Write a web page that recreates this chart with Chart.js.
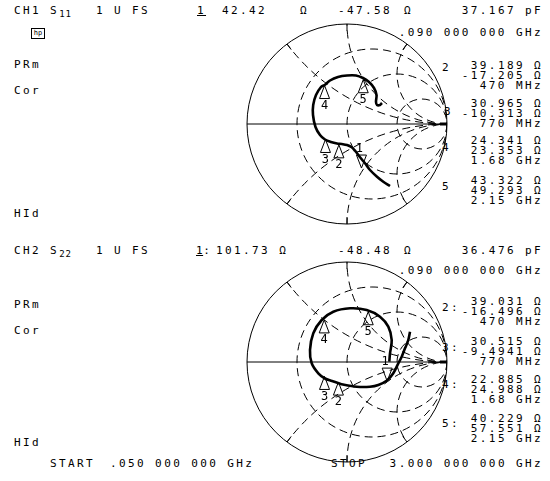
<!DOCTYPE html>
<html lang="en">
<head>
<meta charset="UTF-8">
<title>S11 / S22 Smith chart</title>
<style>
  body { margin: 0; background: #fff; width: 550px; height: 481px; position: relative; overflow: hidden;
         font-family: "DejaVu Sans Mono", monospace; font-size: 11px; color: #000; }
  .t { position: absolute; white-space: pre; letter-spacing: 2.4px; line-height: 10px; }
  .r { position: absolute; right: 7px; white-space: pre; text-align: right; letter-spacing: 2.4px; line-height: 10px; }
  .u { text-decoration: underline; }
  sub { font-size: 9px; vertical-align: -3px; letter-spacing: 1px; }
  .logo { position: absolute; left: 31px; top: 28px; width: 12px; height: 9px; border: 1px solid #000;
          font-size: 7px; line-height: 9px; text-align: center; color: #000; }
  canvas { position: absolute; }
</style>
</head>
<body>
  <!-- channel 1 -->
  <div class="t" style="left:14px;top:6px">CH1 S<sub>11</sub></div>
  <div class="t" style="left:96px;top:6px">1 U FS</div>
  <div class="t u" style="left:197px;top:6px">1</div>
  <div class="t" style="left:222px;top:6px">42.42</div>
  <div class="t" style="left:300px;top:6px">Ω</div>
  <div class="t" style="left:338px;top:6px">-47.58</div>
  <div class="t" style="left:404px;top:6px">Ω</div>
  <div class="r" style="top:6px">37.167 pF</div>
  <div class="logo">hp</div>
  <div class="r" style="top:28px">.090 000 000 GHz</div>
  <div class="t" style="left:14px;top:60px">PRm</div>
  <div class="t" style="left:14px;top:86px">Cor</div>
  <div class="t" style="left:14px;top:209px">HId</div>

  <div class="t" style="left:442px;top:63px">2</div>
  <div class="r" style="top:61px">39.189 Ω<br>-17.205 Ω<br>470 MHz</div>
  <div class="t" style="left:444px;top:107px">3</div>
  <div class="r" style="top:99px">30.965 Ω<br>-10.313 Ω<br>770 MHz</div>
  <div class="t" style="left:442px;top:143px">4</div>
  <div class="r" style="top:136px">24.341 Ω<br>23.353 Ω<br>1.68 GHz</div>
  <div class="t" style="left:442px;top:182px">5</div>
  <div class="r" style="top:176px">43.322 Ω<br>49.293 Ω<br>2.15 GHz</div>

  <!-- channel 2 -->
  <div class="t" style="left:14px;top:246px">CH2 S<sub>22</sub></div>
  <div class="t" style="left:96px;top:246px">1 U FS</div>
  <div class="t" style="left:196px;top:246px;letter-spacing:0.5px"><span class="u">1</span>:</div>
  <div class="t" style="left:216px;top:246px">101.73 Ω</div>
  <div class="t" style="left:338px;top:246px">-48.48</div>
  <div class="t" style="left:404px;top:246px">Ω</div>
  <div class="r" style="top:246px">36.476 pF</div>
  <div class="r" style="top:266px">.090 000 000 GHz</div>
  <div class="t" style="left:14px;top:300px">PRm</div>
  <div class="t" style="left:14px;top:326px">Cor</div>
  <div class="t" style="left:14px;top:438px">HId</div>

  <div class="t" style="left:442px;top:303px">2:</div>
  <div class="r" style="top:297px">39.031 Ω<br>-16.496 Ω<br>470 MHz</div>
  <div class="t" style="left:442px;top:343px">3:</div>
  <div class="r" style="top:337px">30.515 Ω<br>-9.4941 Ω<br>770 MHz</div>
  <div class="t" style="left:442px;top:380px">4:</div>
  <div class="r" style="top:375px">22.885 Ω<br>24.988 Ω<br>1.68 GHz</div>
  <div class="t" style="left:442px;top:419px">5:</div>
  <div class="r" style="top:414px">40.229 Ω<br>57.551 Ω<br>2.15 GHz</div>

  <div class="t" style="left:50px;top:459px">START</div>
  <div class="t" style="left:110px;top:459px">.050 000 000 GHz</div>
  <div class="t" style="left:331px;top:459px">STOP</div>
  <div class="r" style="top:459px">3.000 000 000 GHz</div>

  <canvas id="smith1" width="220" height="220" style="left:237px;top:14px"></canvas>
  <canvas id="smith2" width="220" height="220" style="left:237px;top:252px"></canvas>

  <script src="https://cdn.jsdelivr.net/npm/chart.js"></script>
  <script>
    const s11Re = [0.43, 0.363, 0.30, 0.23, 0.18, 0.147, 0.113, 0.08, 0.047, 0.0, -0.053, -0.10, -0.16, -0.22,
                   -0.27, -0.315, -0.34, -0.338, -0.31, -0.26, -0.224, -0.17, -0.09, 0.0, 0.09, 0.16, 0.22,
                   0.27, 0.295, 0.29, 0.30, 0.33, 0.35];
    const s11Im = [-0.62, -0.577, -0.527, -0.46, -0.393, -0.353, -0.31, -0.267, -0.233, -0.21, -0.20, -0.195, -0.18, -0.155,
                   -0.11, -0.03, 0.09, 0.19, 0.29, 0.37, 0.39, 0.435, 0.47, 0.485, 0.485, 0.46, 0.42,
                   0.36, 0.29, 0.22, 0.19, 0.19, 0.21];

    const s22Re = [0.63, 0.613, 0.58, 0.547, 0.513, 0.463, 0.40, 0.313, 0.23, 0.097, -0.04, -0.09, -0.15, -0.22,
                   -0.287, -0.353, -0.37, -0.337, -0.253, -0.137, 0.03, 0.197, 0.33, 0.413, 0.447, 0.43, 0.423];
    const s22Im = [0.303, 0.22, 0.137, 0.053, -0.013, -0.113, -0.185, -0.23, -0.247, -0.247, -0.225, -0.21, -0.19, -0.165,
                   -0.113, -0.013, 0.12, 0.287, 0.42, 0.503, 0.537, 0.52, 0.453, 0.353, 0.22, 0.087, 0.003];

    // marker readouts (ohms)
    const markerIds = ['1', '2', '3', '4', '5'];
    const s11MarkR = [42.42, 39.189, 30.965, 24.341, 43.322];
    const s11MarkX = [-47.58, -17.205, -10.313, 23.353, 49.293];
    const s22MarkR = [101.73, 39.031, 30.515, 22.885, 40.229];
    const s22MarkX = [-48.48, -16.496, -9.4941, 24.988, 57.551];
    const z0 = 50;

    // graticule
    const rCircles = [1 / 3, 1, 3];
    const xArcs = [0.5, 1, 2, -0.5, -1, -2];

    function gamma(r, x) {
      const a = r / z0, b = x / z0;
      const nr = a - 1, dr = a + 1;
      const d = dr * dr + b * b;
      return { x: (nr * dr + b * b) / d, y: (b * dr - nr * b) / d };
    }

    const smithGrid = {
      id: 'smithGrid',
      beforeDatasetsDraw(chart) {
        const { ctx, scales: { x, y } } = chart;
        const px = v => x.getPixelForValue(v), py = v => y.getPixelForValue(v);
        const R = px(1) - px(0);
        ctx.save();
        ctx.strokeStyle = '#000';
        ctx.lineWidth = 1;
        ctx.beginPath(); ctx.arc(px(0), py(0), R, 0, 2 * Math.PI); ctx.stroke();
        ctx.beginPath(); ctx.moveTo(px(-1), py(0)); ctx.lineTo(px(1), py(0)); ctx.stroke();
        // short heavy bit at the open-circuit end
        ctx.lineWidth = 3;
        ctx.beginPath(); ctx.moveTo(px(0.93), py(0)); ctx.lineTo(px(1), py(0)); ctx.stroke();
        ctx.lineWidth = 1;
        // ticks where reactance arcs meet the rim
        xArcs.forEach(xv => {
          const gx = (xv * xv - 1) / (xv * xv + 1), gy = 2 * xv / (xv * xv + 1);
          ctx.beginPath();
          ctx.moveTo(px(gx), py(gy));
          ctx.lineTo(px(gx * 0.93), py(gy * 0.93));
          ctx.stroke();
        });
        ctx.beginPath(); ctx.arc(px(0), py(0), R, 0, 2 * Math.PI); ctx.clip();
        ctx.setLineDash([8, 5]);
        rCircles.forEach(r => {
          ctx.beginPath();
          ctx.arc(px(r / (1 + r)), py(0), R / (1 + r), 0, 2 * Math.PI);
          ctx.stroke();
        });
        xArcs.forEach(xv => {
          ctx.beginPath();
          ctx.arc(px(1), py(1 / xv), R / Math.abs(xv), 0, 2 * Math.PI);
          ctx.stroke();
        });
        ctx.restore();
      }
    };

    const markerPlugin = {
      id: 'markerPlugin',
      afterDatasetsDraw(chart, args, opts) {
        const { ctx, scales: { x, y } } = chart;
        ctx.save();
        ctx.strokeStyle = '#000';
        ctx.fillStyle = '#000';
        ctx.lineWidth = 1;
        ctx.font = '12px "DejaVu Sans Mono"';
        ctx.textAlign = 'center';
        ctx.textBaseline = 'middle';
        opts.r.forEach((r, i) => {
          const g = gamma(r, opts.x[i]);
          const gx = x.getPixelForValue(g.x), gy = y.getPixelForValue(g.y);
          ctx.beginPath();
          if (i === 0) {
            ctx.moveTo(gx, gy); ctx.lineTo(gx - 5, gy - 13); ctx.lineTo(gx + 5, gy - 13); ctx.closePath();
            ctx.stroke();
            ctx.fillText(markerIds[i], gx - 2, gy - 19);
          } else {
            ctx.moveTo(gx, gy); ctx.lineTo(gx - 5, gy + 13); ctx.lineTo(gx + 5, gy + 13); ctx.closePath();
            ctx.stroke();
            ctx.fillText(markerIds[i], gx, gy + 20);
          }
        });
        ctx.restore();
      }
    };

    function makeSmith(id, re, im, mR, mX) {
      return new Chart(document.getElementById(id), {
        type: 'scatter',
        data: {
          datasets: [{
            data: re.map((v, i) => ({ x: v, y: im[i] })),
            showLine: true,
            borderColor: '#000',
            borderWidth: 2.6,
            pointRadius: 0,
            tension: 0.35,
            fill: false
          }]
        },
        options: {
          responsive: false,
          animation: false,
          events: [],
          layout: { padding: 10 },
          scales: {
            x: { type: 'linear', min: -1, max: 1, display: false },
            y: { type: 'linear', min: -1, max: 1, display: false }
          },
          plugins: {
            legend: { display: false },
            tooltip: { enabled: false },
            markerPlugin: { r: mR, x: mX }
          }
        },
        plugins: [smithGrid, markerPlugin]
      });
    }

    makeSmith('smith1', s11Re, s11Im, s11MarkR, s11MarkX);
    makeSmith('smith2', s22Re, s22Im, s22MarkR, s22MarkX);
  </script>
</body>
</html>
